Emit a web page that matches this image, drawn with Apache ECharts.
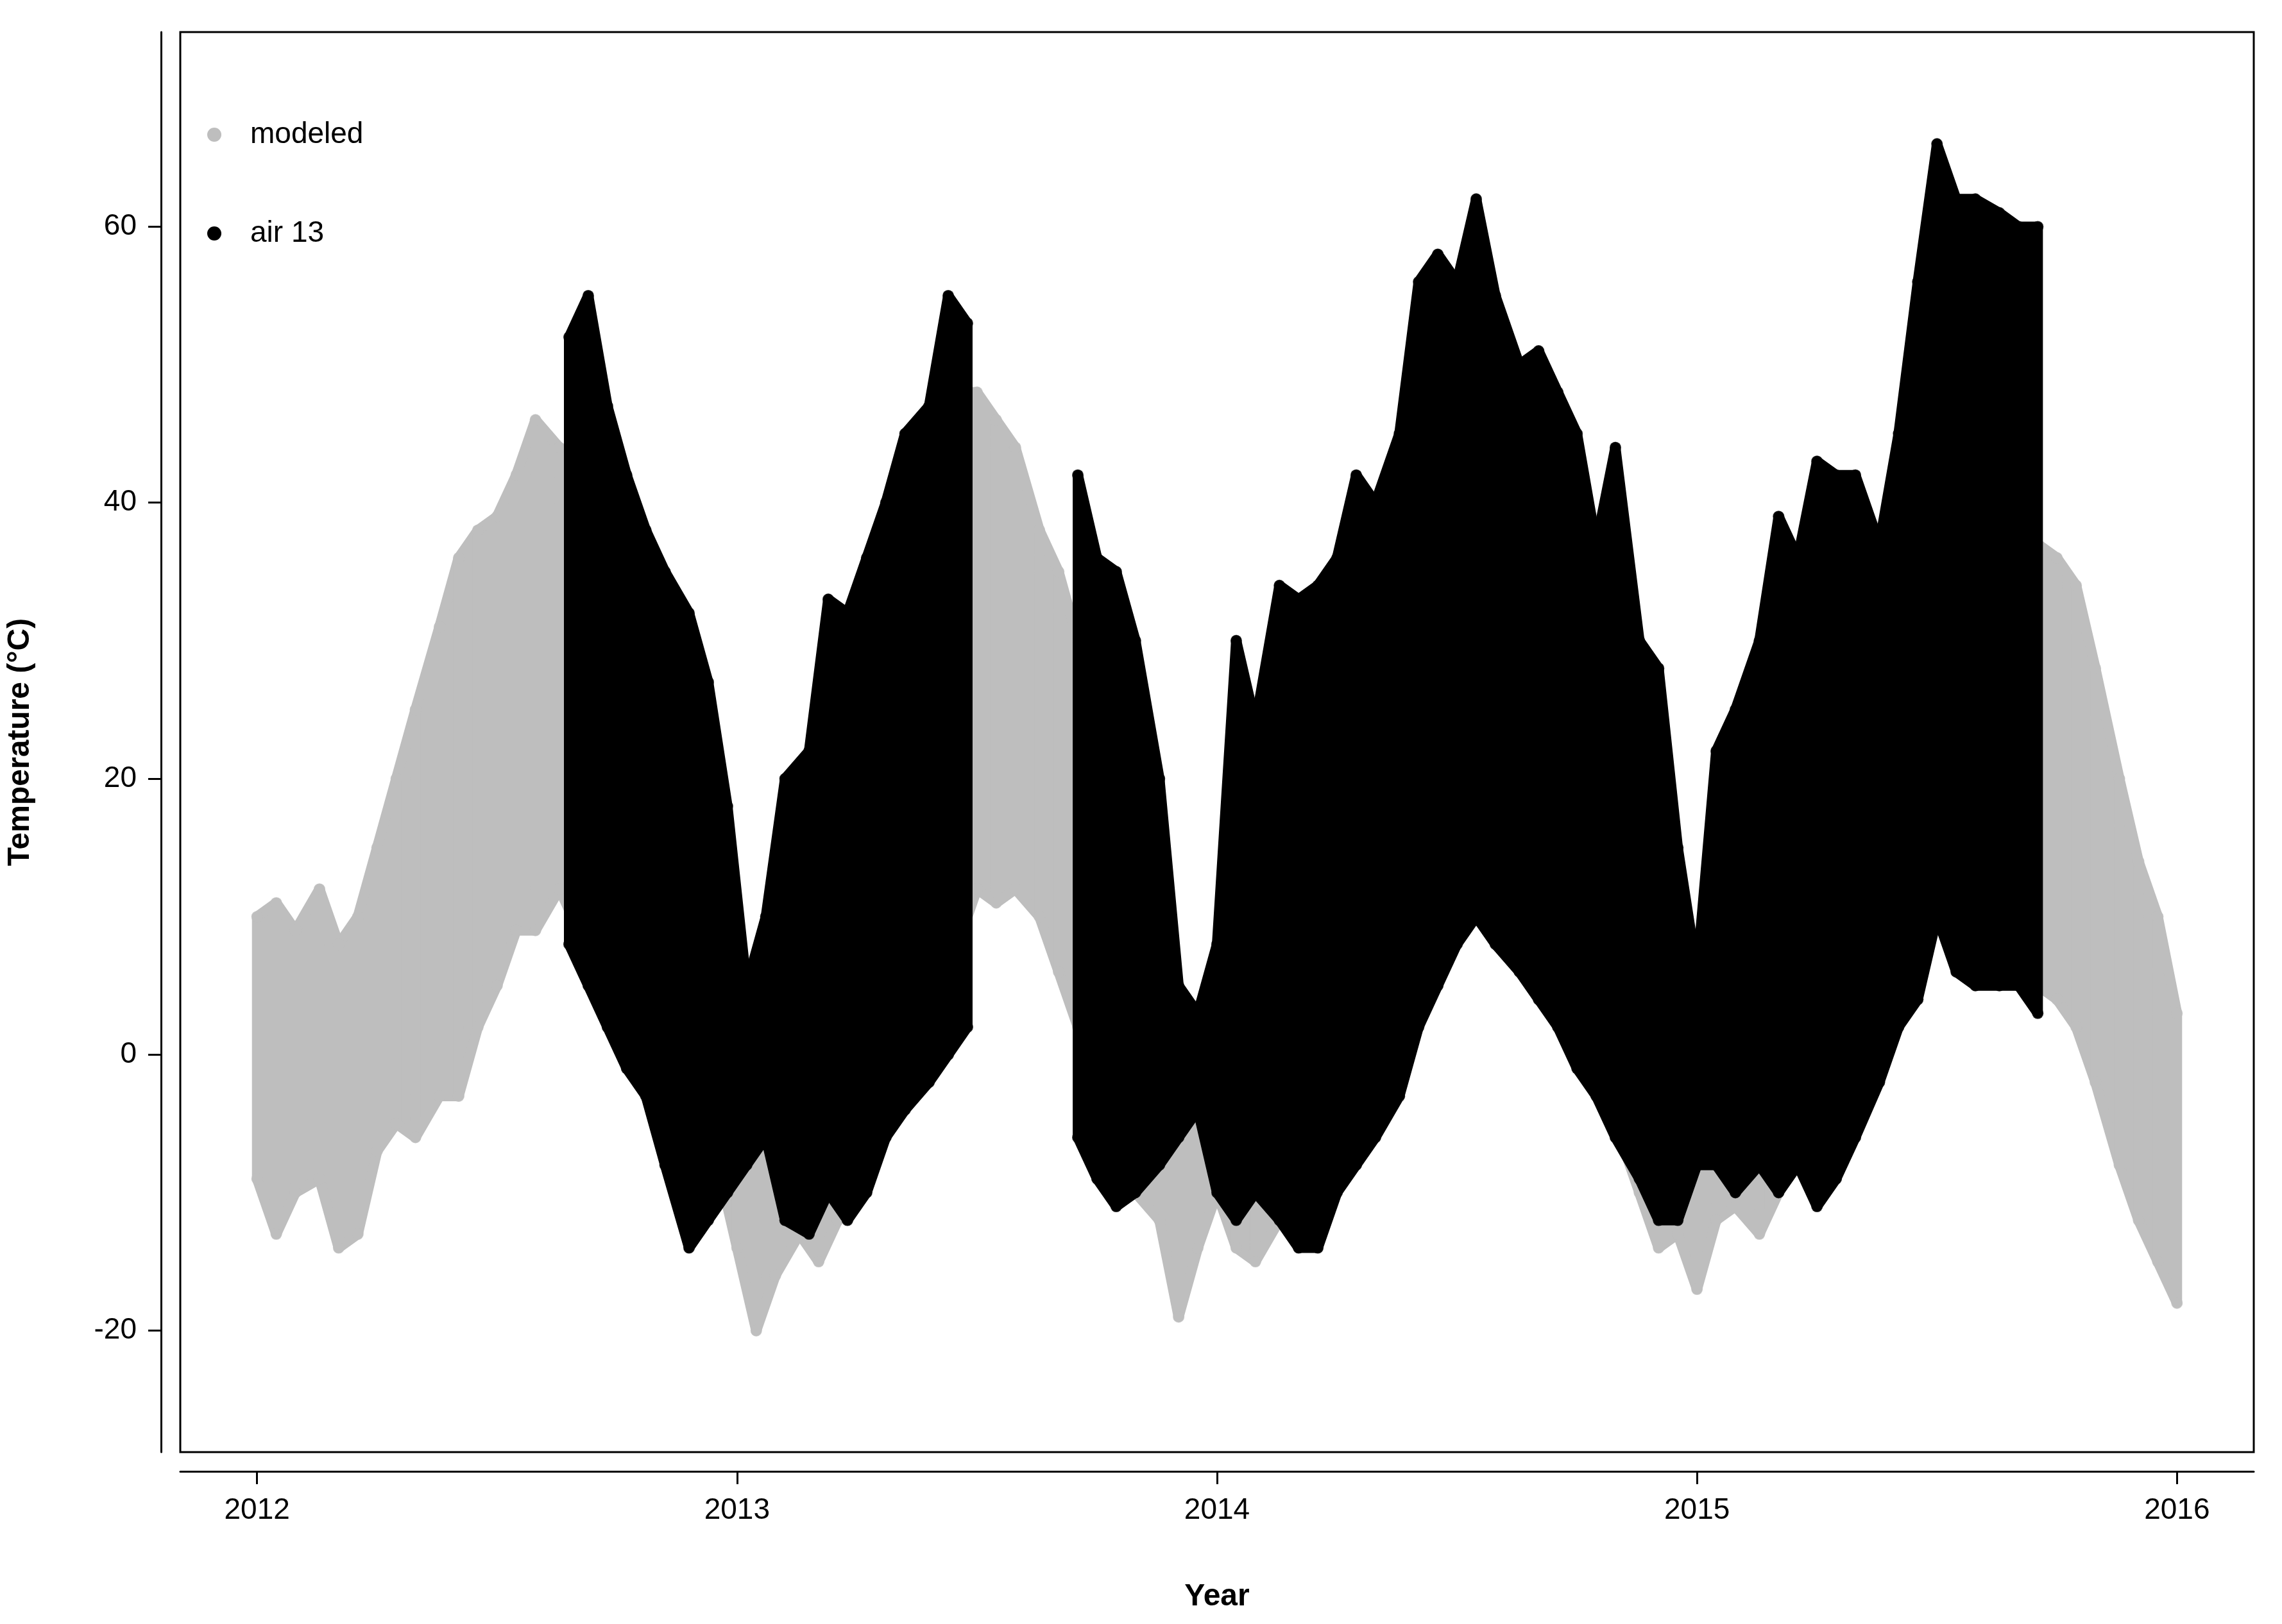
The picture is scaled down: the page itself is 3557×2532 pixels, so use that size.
<!DOCTYPE html>
<html><head><meta charset="utf-8">
<script src="https://cdn.jsdelivr.net/npm/echarts@6/dist/echarts.min.js"></script>
<style>html,body{margin:0;background:#fff}#chart{width:3557px;height:2532px}</style>
</head><body><div id="chart"></div>
<script>
// half-month samples: decimal year, lower and upper edge of each point cloud
var modeledYear = [2012.00,2012.04,2012.08,2012.13,2012.17,2012.21,2012.25,2012.29,2012.33,2012.38,2012.42,2012.46,2012.50,2012.54,2012.58,2012.63,2012.67,2012.71,2012.75,2012.79,2012.83,2012.88,2012.92,2012.96,
  2013.00,2013.04,2013.08,2013.13,2013.17,2013.21,2013.25,2013.29,2013.33,2013.38,2013.42,2013.46,2013.50,2013.54,2013.58,2013.63,2013.67,2013.71,2013.75,2013.79,2013.83,2013.88,2013.92,2013.96,
  2014.00,2014.04,2014.08,2014.13,2014.17,2014.21,2014.25,2014.29,2014.33,2014.38,2014.42,2014.46,2014.50,2014.54,2014.58,2014.63,2014.67,2014.71,2014.75,2014.79,2014.83,2014.88,2014.92,2014.96,
  2015.00,2015.04,2015.08,2015.13,2015.17,2015.21,2015.25,2015.29,2015.33,2015.38,2015.42,2015.46,2015.50,2015.54,2015.58,2015.63,2015.67,2015.71,2015.75,2015.79,2015.83,2015.88,2015.92,2015.96,2016.00];
var modeledLow = [-9,-13,-10,-9,-14,-13,-7,-5,-6,-3,-3,2,5,9,9,12,9,7,4,2,-2,-6,-10,-8,
  -14,-20,-16,-13,-15,-12,-8,-6,-2,2,4,8,12,11,12,10,6,2,-3,-6,-10,-12,-19,-14,
  -10,-14,-15,-12,-10,-8,-6,-4,-2,0,3,6,9,10,9,8,6,4,1,-2,-5,-10,-14,-13,
  -17,-12,-11,-13,-10,-8,-6,-4,0,3,6,9,12,11,10,8,6,5,4,2,-2,-8,-12,-15,-18];
var modeledHigh = [10,11,9,12,8,10,15,20,25,31,36,38,39,42,46,44,40,36,32,28,24,18,12,8,
  5,6,3,8,12,16,20,25,30,36,42,48,48,46,44,38,35,30,25,20,15,10,4,3,
  4,5,8,10,12,16,20,24,28,32,36,38,40,40,38,36,32,28,24,20,16,12,8,6,
  8,10,14,16,18,22,26,30,34,38,40,42,42,40,40,38,36,37,36,34,28,20,14,10,3];

var airYear = [2012.65,2012.69,2012.73,2012.77,2012.81,2012.85,2012.90,2012.94,2012.98,2013.02,2013.06,2013.10,2013.15,2013.19,2013.23,2013.27,2013.31,2013.35,2013.40,2013.44,2013.48,
  null,
  2013.71,2013.75,2013.79,2013.83,2013.88,2013.92,2013.96,2014.00,2014.04,2014.08,2014.13,2014.17,2014.21,2014.25,2014.29,2014.33,2014.38,2014.42,2014.46,2014.50,2014.54,2014.58,2014.63,2014.67,2014.71,2014.75,2014.79,2014.83,2014.88,2014.92,2014.96,
  2015.00,2015.04,2015.08,2015.13,2015.17,2015.21,2015.25,2015.29,2015.33,2015.38,2015.42,2015.46,2015.50,2015.54,2015.58,2015.63,2015.67,2015.71];
var airLow = [8,5,2,-1,-3,-8,-14,-12,-10,-8,-6,-12,-13,-10,-12,-10,-6,-4,-2,0,2,
  null,
  -6,-9,-11,-10,-8,-6,-4,-10,-12,-10,-12,-14,-14,-10,-8,-6,-3,2,5,8,10,8,6,4,2,-1,-3,-6,-9,-12,-12,
  -8,-8,-10,-8,-10,-8,-11,-9,-6,-2,2,4,10,6,5,5,5,3];
var airHigh = [52,55,47,42,38,35,32,27,18,5,10,20,22,33,32,36,40,45,47,55,53,
  null,
  42,36,35,30,20,5,3,8,30,24,34,33,34,36,42,40,45,56,58,56,62,55,50,51,48,45,37,44,30,28,15,
  6,22,25,30,39,36,43,42,42,37,45,56,66,62,62,61,60,60];

var yTicks = [-20, 0, 20, 40, 60];
var xTicks = [2012, 2013, 2014, 2015, 2016];

function bandData(xs, lo, hi) {
  var out = [];
  for (var i = 0; i < xs.length - 1; i++) {
    if (xs[i] == null || xs[i + 1] == null) continue;
    out.push([xs[i], lo[i], hi[i], xs[i + 1], lo[i + 1], hi[i + 1]]);
  }
  return out;
}
function edgeDots(xs, lo, hi) {
  var out = [];
  xs.forEach(function (x, i) {
    if (x == null) return;
    out.push([x, lo[i]]); out.push([x, hi[i]]);
  });
  return out;
}
function bandSeries(name, xs, lo, hi, color, z) {
  return [{
    name: name, type: 'custom', z: z, silent: true,
    data: bandData(xs, lo, hi),
    renderItem: function (params, api) {
      var a = api.coord([api.value(0), api.value(1)]);
      var b = api.coord([api.value(0), api.value(2)]);
      var c = api.coord([api.value(3), api.value(5)]);
      var d = api.coord([api.value(3), api.value(4)]);
      return { type: 'polygon', shape: { points: [a, b, c, d] },
        style: { fill: color, stroke: color, lineWidth: 16, lineJoin: 'round' } };
    }
  }, {
    name: name, type: 'scatter', z: z, symbolSize: 18, silent: true,
    itemStyle: { color: color }, data: edgeDots(xs, lo, hi)
  }];
}

var chart = echarts.init(document.getElementById('chart'));
var font = 'Liberation Sans, Arial, sans-serif';
chart.setOption({
  backgroundColor: '#fff',
  animation: false,
  grid: { left: 268, right: 44, top: 50, bottom: 268, show: true, borderColor: '#000', borderWidth: 3 },
  legend: {
    left: 318, top: 182, orient: 'vertical', itemGap: 108, icon: 'circle', itemWidth: 22, itemHeight: 22,
    textStyle: { fontSize: 46, fontFamily: font, color: '#000', padding: [0, 0, 0, 40] },
    data: [{ name: 'modeled', itemStyle: { color: '#bebebe' } }, { name: 'air 13', itemStyle: { color: '#000' } }]
  },
  xAxis: {
    type: 'value', min: 2011.84, max: 2016.16, offset: 30,
    name: 'Year', nameLocation: 'middle', nameGap: 172,
    nameTextStyle: { fontSize: 48, fontWeight: 'bold', fontFamily: font, color: '#000' },
    splitLine: { show: false },
    axisLine: { show: true, onZero: false, lineStyle: { color: '#000', width: 3 } },
    axisTick: { show: true, length: 20, lineStyle: { color: '#000', width: 3 }, customValues: xTicks },
    axisLabel: { fontSize: 46, fontFamily: font, color: '#000', margin: 38, customValues: xTicks,
      formatter: function (v) { return String(v); } }
  },
  yAxis: {
    type: 'value', min: -28.8, max: 74.1, offset: 30,
    name: 'Temperature (°C)', nameLocation: 'middle', nameGap: 195, nameRotate: 90,
    nameTextStyle: { fontSize: 48, fontWeight: 'bold', fontFamily: font, color: '#000' },
    splitLine: { show: false },
    axisLine: { show: true, onZero: false, lineStyle: { color: '#000', width: 3 } },
    axisTick: { show: true, length: 20, lineStyle: { color: '#000', width: 3 }, customValues: yTicks },
    axisLabel: { fontSize: 46, fontFamily: font, color: '#000', margin: 38, customValues: yTicks }
  },
  series: [].concat(
    bandSeries('modeled', modeledYear, modeledLow, modeledHigh, '#bebebe', 1),
    bandSeries('air 13', airYear, airLow, airHigh, '#000', 2)
  )
});
</script></body></html>
